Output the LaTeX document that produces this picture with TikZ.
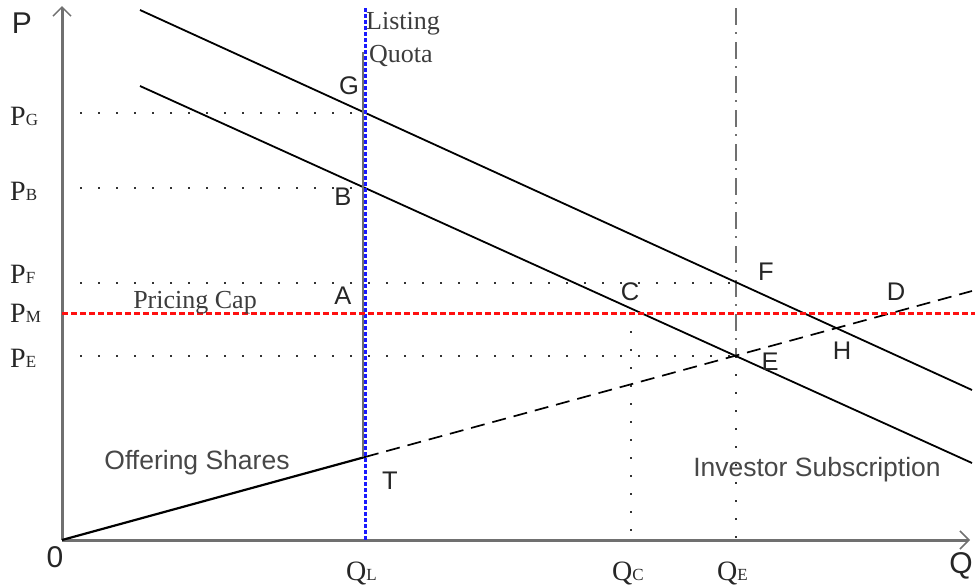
\documentclass[tikz,border=0pt]{standalone}
\usepackage{fontspec}
\setmainfont{Liberation Serif}
\setsansfont{Liberation Sans}
\usetikzlibrary{arrows.meta}
\definecolor{axisgray}{HTML}{707070}
\definecolor{txt}{HTML}{262626}
\definecolor{capred}{HTML}{FF1010}
\definecolor{quotablue}{HTML}{1A1AFF}
\begin{document}
\begin{tikzpicture}[x=1pt,y=-1pt,
  axisline/.style={draw=axisgray,line width=3pt,-{Straight Barb[length=9pt,width=18pt,line width=1.5pt]}},
  demand/.style={draw=black,line width=1.8pt},
  supply/.style={draw=black,line width=2.2pt},
  supplydash/.style={draw=black,line width=1.7pt,dash pattern=on 14pt off 8pt},
  guide/.style={draw=black!80,line width=1.8pt,dash pattern=on 1.8pt off 16.2pt},
  dashdot/.style={draw=axisgray,line width=2.4pt,dash pattern=on 17pt off 7pt on 2pt off 8pt},
  capline/.style={draw=capred,line width=3pt,dash pattern=on 6pt off 3pt},
  quotaline/.style={draw=quotablue,line width=3pt,dash pattern=on 3.5pt off 2.5pt},
  quotasolid/.style={draw=axisgray,line width=2.8pt},
  pt/.style={font=\sffamily\fontsize{25.5}{25.5}\selectfont,text=txt,inner sep=0pt},
  axlab/.style={font=\sffamily\fontsize{30}{30}\selectfont,text=txt,inner sep=0pt},
  plab/.style={font=\rmfamily\fontsize{28}{28}\selectfont,text=txt,inner sep=0pt,anchor=base west},
  curvelab/.style={font=\sffamily\fontsize{26.5}{26.5}\selectfont,text=txt!85,inner sep=0pt},
  seriflab/.style={font=\rmfamily\fontsize{26}{26}\selectfont,text=txt!90,inner sep=0pt}
]
\newcommand{\subsc}[1]{{\fontsize{17}{17}\selectfont #1}}
\useasboundingbox (0,0) rectangle (975,587);

% key coordinates
\coordinate (O) at (62,540);
\coordinate (Ytop) at (62,6);
\coordinate (Xend) at (970,540);
\coordinate (D1s) at (140,10);
\coordinate (D1e) at (972,390);
\coordinate (D2s) at (140,86);
\coordinate (D2e) at (972,463);
\coordinate (Send) at (972,291);
\coordinate (Gp) at (365,113);
\coordinate (Bp) at (365,188);
\coordinate (Ap) at (365,313);
\coordinate (Tp) at (365,457);
\coordinate (Cp) at (634,313);
\coordinate (Ep) at (736,356);
\coordinate (Fp) at (736,282);
\coordinate (PGl) at (62,113);
\coordinate (PBl) at (62,188);
\coordinate (PFl) at (62,283);
\coordinate (PMl) at (62,313);
\coordinate (PEl) at (62,356);
\coordinate (PMr) at (975,313);
\coordinate (QLt) at (365,8);
\coordinate (QLb) at (365,540);
\coordinate (QSt) at (363,52);
\coordinate (QCb) at (631,540);
\coordinate (QCt) at (631,313);
\coordinate (QEt) at (736,8);
\coordinate (QEb) at (736,540);
\coordinate (PFr) at (736,283);

% guides
\draw[guide] (PGl) -- (Gp);
\draw[guide] (PBl) -- (Bp);
\draw[guide] (PFl) -- (PFr);
\draw[guide] (PEl) -- (Ep);
\draw[guide] (QCt) -- (QCb);
\draw[guide] (Ep) -- (QEb);
\draw[dashdot] (QEt) -- (Ep);

% axes
\draw[axisline] (O) -- (Ytop);
\draw[axisline] (O) -- (Xend);

% demand lines
\draw[demand] (D1s) -- (D1e);
\draw[demand] (D2s) -- (D2e);

% supply
\draw[supply] (O) -- (Tp);
\draw[supplydash] (Tp) -- (Send);

% listing quota
\draw[quotasolid] (QSt) -- (QSt |- Tp);
\draw[quotaline] (QLt) -- (QLb);

% pricing cap
\draw[capline] (PMl) -- (PMr);

% axis labels
\node[axlab] (Plab) at (22,23) {P};
\node[axlab] (Qlab) at (961,566) {Q};
\node[axlab] (Olab) at (55,557) {0};

\node[plab] (PG) at (10,125) {P\subsc{G}};
\node[plab] (PB) at (10,200) {P\subsc{B}};
\node[plab] (PF) at (10,283) {P\subsc{F}};
\node[plab] (PM) at (10,322) {P\subsc{M}};
\node[plab] (PE) at (10,367) {P\subsc{E}};

\node[plab] (QL) at (346,580) {Q\subsc{L}};
\node[plab] (QC) at (612,580) {Q\subsc{C}};
\node[plab] (QE) at (717,580) {Q\subsc{E}};

% point labels
\node[pt] (Glab) at (349,86) {G};
\node[pt] (Blab) at (343,197) {B};
\node[pt] (Alab) at (343,296) {A};
\node[pt] (Clab) at (630,292) {C};
\node[pt] (Flab) at (766,272) {F};
\node[pt] (Dlab) at (896,292) {D};
\node[pt] (Elab) at (770,362) {E};
\node[pt] (Hlab) at (842,351) {H};
\node[pt] (Tlab) at (390,481) {T};

% text labels
\node[seriflab,anchor=west] (Listing) at (366,24) {Listing};
\node[seriflab,anchor=west] (Quota) at (369,56) {Quota};
\node[seriflab] (Pcap) at (195,303) {Pricing Cap};
\node[curvelab] (Offer) at (197,463) {Offering Shares};
\node[curvelab] (Invest) at (817,470) {Investor Subscription};
\end{tikzpicture}
\end{document}
